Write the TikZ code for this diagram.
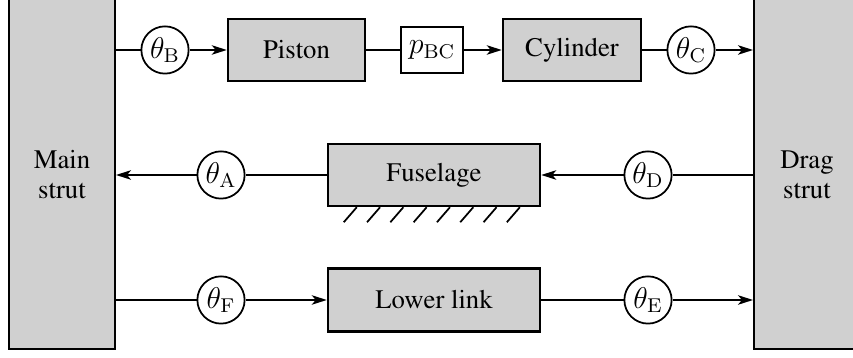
\documentclass[tikz,border=0pt]{standalone}
\usepackage[T1]{fontenc}
\renewcommand{\rmdefault}{ptm}
\usepackage{tikz}
\usetikzlibrary{arrows.meta}
\definecolor{GearGrey}{HTML}{D0D0D0}

\begin{document}
\begin{tikzpicture}[
  x=0.4pt,y=0.4pt,
  every node/.style={font=\rmfamily\fontsize{10.7}{12}\selectfont},
  strut/.style={draw,line width=0.8pt,fill=GearGrey,minimum width=42.4pt,minimum height=140.8pt,align=center,inner sep=0pt},
  block/.style={draw,line width=1pt,fill=GearGrey,minimum height=24.8pt,inner sep=0pt},
  sig/.style={draw,line width=0.8pt,fill=white,minimum width=24.8pt,minimum height=18.4pt,inner sep=0pt,font=\fontsize{12}{14}\selectfont},
  ang/.style={draw,circle,line width=0.7pt,fill=white,minimum size=18.9pt,inner sep=0pt,font=\fontsize{12}{14}\selectfont},
  arr/.style={-{Stealth[length=6pt,width=3.8pt,inset=1.6pt]},line width=0.7pt},
  lnk/.style={line width=0.7pt},
  hatch/.style={line width=0.7pt}
]
\useasboundingbox (0,0) rectangle (853,358);
% struts at the sides
\node[strut] (main) at (62,184.5) {\\[-4pt]Main\\strut};
\node[strut] (drag) at (807,184.5) {\\[-4pt]Drag\\strut};
% top row
\node[ang] (tB) at (165,308) {$\theta_\mathrm{B}$};
\node[block,minimum width=54.8pt] (piston) at (296.5,308) {Piston};
\node[sig] (pbc) at (432,308) {$p_\mathrm{BC}$};
\node[block,minimum width=55.2pt] (cyl) at (572,308) {Cylinder};
\node[ang] (tC) at (691,308) {$\theta_\mathrm{C}$};
% middle row
\node[ang] (tA) at (221,183) {$\theta_\mathrm{A}$};
\node[block,minimum width=84.8pt] (fus) at (434,183) {Fuselage};
\node[ang] (tD) at (648,183) {$\theta_\mathrm{D}$};
% bottom row
\node[ang] (tF) at (221,58) {$\theta_\mathrm{F}$};
\node[block,minimum width=84.8pt,minimum height=25.2pt] (low) at (434,58) {Lower link};
\node[ang] (tE) at (648,58) {$\theta_\mathrm{E}$};
% ground under the fuselage
\foreach \i in {0,...,7}
  \draw[hatch] ([xshift={12pt+9.32pt*\i}]fus.south west) -- ++(-13,-15);
% connectors
\draw[lnk] (tB -| main.east) -- (tB);
\draw[arr] (tB) -- (piston);
\draw[lnk] (piston) -- (pbc);
\draw[arr] (pbc) -- (cyl);
\draw[lnk] (cyl) -- (tC);
\draw[arr] (tC) -- (tC -| drag.west);
\draw[arr] (tA) -- (tA -| main.east);
\draw[lnk] (fus) -- (tA);
\draw[lnk] (tD -| drag.west) -- (tD);
\draw[arr] (tD) -- (fus);
\draw[lnk] (tF -| main.east) -- (tF);
\draw[arr] (tF) -- (low);
\draw[lnk] (low) -- (tE);
\draw[arr] (tE) -- (tE -| drag.west);
\end{tikzpicture}
\end{document}
